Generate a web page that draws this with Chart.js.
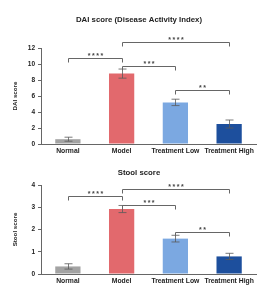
<!DOCTYPE html>
<html lang="en">
<head>
    <meta charset="UTF-8">
    <title>DAI and stool score</title>
    <script src="https://cdn.jsdelivr.net/npm/chart.js"></script>
    <style>
        body { margin: 0; background: #fff; }
        .chart-box { position: relative; width: 268px; }
    </style>
</head>
<body>
    <div class="chart-box" style="height:160px"><canvas id="dai-chart"></canvas></div>
    <div class="chart-box" style="height:144px"><canvas id="stool-chart"></canvas></div>

    <script>
        // Data
        const categories = ['Normal', 'Model', 'Treatment Low', 'Treatment High'];
        const daiMeans = [0.6, 8.8, 5.2, 2.5];
        const daiErrors = [0.25, 0.57, 0.4, 0.5];
        const stoolMeans = [0.34, 2.92, 1.59, 0.79];
        const stoolErrors = [0.12, 0.16, 0.15, 0.14];

        // significance brackets: [from index, to index, level, stars]
        const daiBrackets = [
            [0, 1, 10.7, '****'],
            [1, 3, 12.8, '****'],
            [1, 2, 9.8, '***'],
            [2, 3, 6.7, '**']
        ];
        const stoolBrackets = [
            [0, 1, 3.49, '****'],
            [1, 3, 3.83, '****'],
            [1, 2, 3.08, '***'],
            [2, 3, 1.91, '**']
        ];

        const barColors = ['#a3a3a3', '#e2696d', '#7ba8e1', '#1d4f9d'];
        const FONT = '"Liberation Sans", Arial, sans-serif';

        // draws the title, error bars and significance brackets
        const annotations = {
            id: 'annotations',
            afterDatasetsDraw(chart, args, opts) {
                const ctx = chart.ctx;
                const x = chart.scales.x;
                const y = chart.scales.y;
                ctx.save();
                ctx.lineWidth = 1;

                // title
                ctx.font = 'bold 7.8px ' + FONT;
                ctx.fillStyle = '#222';
                ctx.textAlign = 'center';
                ctx.textBaseline = 'middle';
                ctx.fillText(opts.title, 139, opts.titleY);

                // error bars
                opts.means.forEach((m, i) => {
                    const cx = Math.round(x.getPixelForValue(i)) + 0.5;
                    const top = y.getPixelForValue(m + opts.errors[i]);
                    const bot = y.getPixelForValue(m - opts.errors[i]);
                    ctx.strokeStyle = 'rgba(90,90,90,0.8)';
                    ctx.beginPath();
                    ctx.moveTo(cx, top); ctx.lineTo(cx, bot);
                    ctx.moveTo(cx - 4, top); ctx.lineTo(cx + 4, top);
                    ctx.moveTo(cx - 4, bot); ctx.lineTo(cx + 4, bot);
                    ctx.stroke();
                });

                // brackets
                ctx.font = 'bold 7px ' + FONT;
                ctx.letterSpacing = '1.5px';
                ctx.textBaseline = 'bottom';
                opts.brackets.forEach(b => {
                    const x1 = Math.round(x.getPixelForValue(b[0])) + 0.5;
                    const x2 = Math.round(x.getPixelForValue(b[1])) + 0.5;
                    const yy = Math.round(y.getPixelForValue(b[2])) + 0.5;
                    ctx.strokeStyle = '#666';
                    ctx.beginPath();
                    ctx.moveTo(x1, yy + 4); ctx.lineTo(x1, yy);
                    ctx.lineTo(x2, yy); ctx.lineTo(x2, yy + 4);
                    ctx.stroke();
                    ctx.fillStyle = '#444';
                    ctx.fillText(b[3], (x1 + x2) / 2 + 0.75, yy + 1);
                });
                ctx.restore();
            }
        };

        function makeChart(id, means, errors, brackets, title, titleY, yTitle, yMax, yStep, topPad, bottomPad) {
            return new Chart(document.getElementById(id), {
                type: 'bar',
                data: {
                    labels: categories,
                    datasets: [{
                        data: means,
                        backgroundColor: barColors,
                        borderWidth: 0,
                        barPercentage: 0.47,
                        categoryPercentage: 1
                    }]
                },
                options: {
                    responsive: true,
                    maintainAspectRatio: false,
                    animation: false,
                    layout: { padding: { left: 0, right: 12, top: topPad, bottom: bottomPad } },
                    plugins: {
                        legend: { display: false },
                        tooltip: { enabled: false },
                        title: { display: false },
                        annotations: { title: title, titleY: titleY, means: means, errors: errors, brackets: brackets }
                    },
                    scales: {
                        x: {
                            grid: { display: false, drawTicks: false },
                            border: { color: '#666' },
                            ticks: {
                                color: '#222', padding: 3, maxRotation: 0, autoSkip: false,
                                font: { family: FONT, size: 6.8, weight: 'bold' }
                            },
                            afterFit: s => { s.height = 16; }
                        },
                        y: {
                            min: 0, max: yMax,
                            grid: { drawOnChartArea: false, tickLength: 3, color: '#666' },
                            border: { color: '#666' },
                            ticks: {
                                stepSize: yStep, color: '#222', padding: 3,
                                font: { family: FONT, size: 6.5, weight: 'bold' }
                            },
                            title: {
                                display: true, text: yTitle, color: '#222',
                                font: { family: FONT, size: 6.2, weight: 'bold' },
                                padding: { top: 12, bottom: 0 }
                            },
                            afterFit: s => { s.width = 41; }
                        }
                    }
                },
                plugins: [annotations]
            });
        }

        makeChart('dai-chart', daiMeans, daiErrors, daiBrackets,
            'DAI score (Disease Activity Index)', 20, 'DAI score', 12, 2, 48, 0);
        makeChart('stool-chart', stoolMeans, stoolErrors, stoolBrackets,
            'Stool score', 13, 'Stool score', 4, 1, 25, 14);
    </script>
</body>
</html>
